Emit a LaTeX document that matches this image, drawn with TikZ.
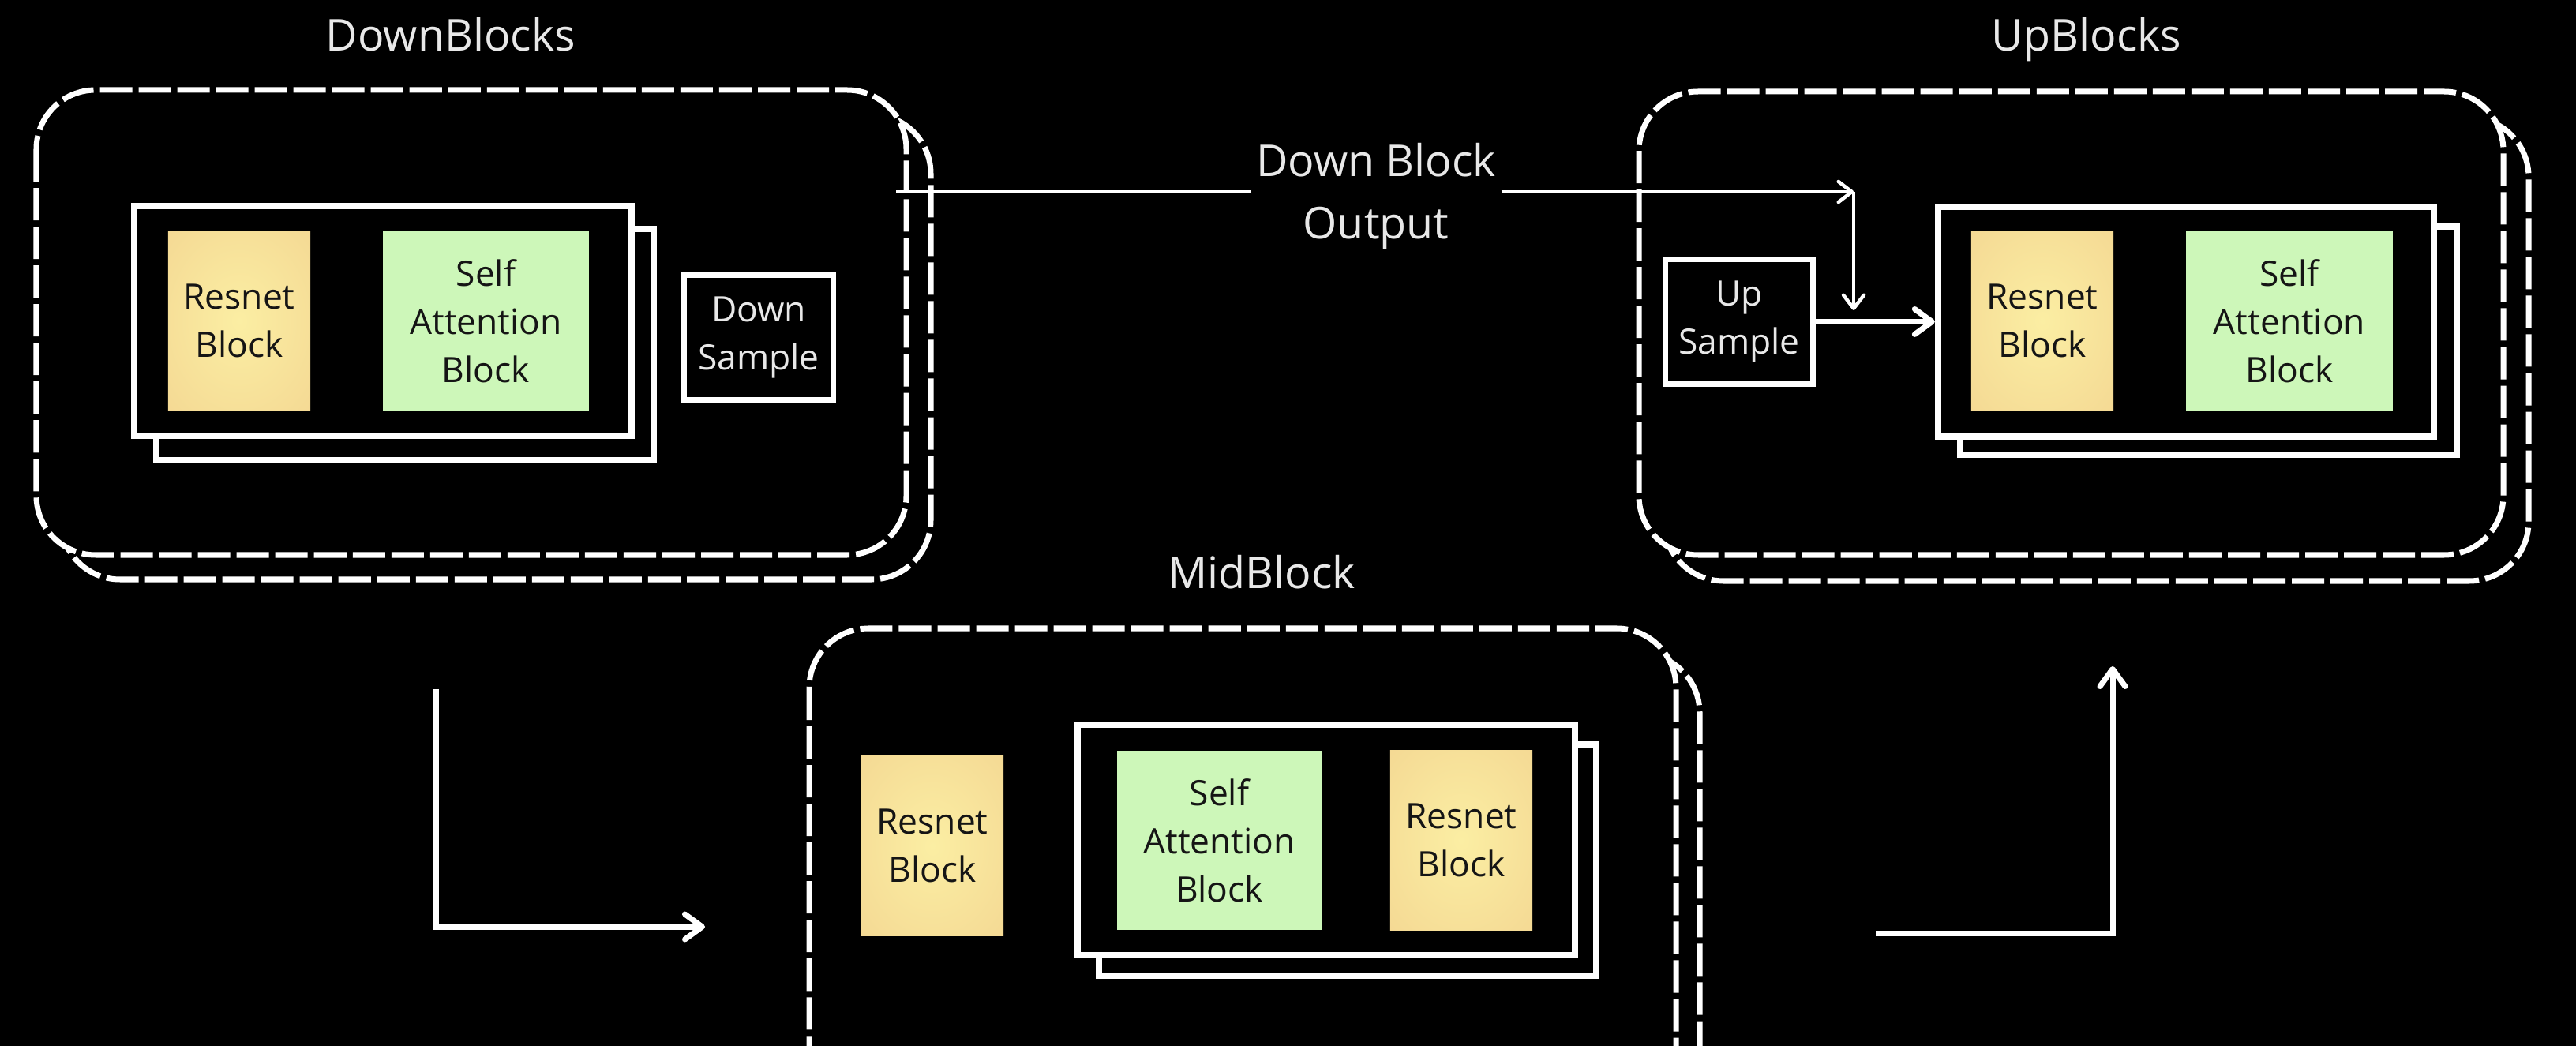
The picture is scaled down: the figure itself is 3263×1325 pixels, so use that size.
\documentclass[tikz,border=0pt]{standalone}
\usepackage{fontspec}
\setmainfont{Open Sans}
\usetikzlibrary{arrows.meta}
\definecolor{resin}{HTML}{FBEEA3}
\definecolor{resmid}{HTML}{F4D893}
\definecolor{resout}{HTML}{EBC280}
\definecolor{sagreen}{RGB}{205,247,185}
\definecolor{ink}{HTML}{151515}
\definecolor{lighttext}{HTML}{E8E8E8}
\pgfdeclareradialshading{resshade}{\pgfpoint{0bp}{0bp}}{color(0bp)=(resin); color(38bp)=(resmid); color(71bp)=(resout)}
\newcommand\blockfont{\fontsize{12.6pt}{17.35pt}\selectfont}
\newcommand\titlefont{\fontsize{15.8pt}{22.5pt}\selectfont}
\begin{document}
\begin{tikzpicture}[x=0.01cm,y=-0.01cm,
  dbox/.style={draw=white, line width=0.07cm, dash pattern=on 0.41cm off 0.08cm, rounded corners=0.75cm},
  frame/.style={draw=white, line width=0.08cm, fill=black, inner sep=0pt},
  resblk/.style={shading=resshade, text=ink, align=center, font=\blockfont, inner sep=0pt, minimum width=1.80cm, minimum height=2.26cm},
  sablk/.style={fill=sagreen, text=ink, align=center, font=\blockfont, inner sep=0pt, minimum width=2.61cm, minimum height=2.26cm},
  smallbox/.style={draw=white, line width=0.07cm, fill=black, text=lighttext, align=center, font=\blockfont, inner sep=0pt, minimum width=1.87cm, minimum height=1.57cm},
  title/.style={text=lighttext, font=\titlefont, anchor=base},
  arr/.style={draw=white, line width=0.07cm, line cap=round, -{Straight Barb[length=0.22cm,width=0.32cm,round]}},
  plain/.style={draw=white, line width=0.07cm},
  thinarr/.style={draw=white, line width=0.045cm, -{Straight Barb[length=0.17cm,width=0.26cm,round]}},
  thinline/.style={draw=white, line width=0.045cm}]
\useasboundingbox (0,0) rectangle (3263,1325);
\fill[black] (0,0) rectangle (3263,1325);
\clip (0,0) rectangle (3263,1325);

% ---------- dashed containers (back, then front) ----------
\draw[dbox] (77,145) rectangle (1179,734);
\draw[dbox, fill=black] (46,114) rectangle (1148,703);
\draw[dbox] (2108,149) rectangle (3203,736);
\draw[dbox, fill=black] (2076,116) rectangle (3171,703);
\draw[dbox] (1055,828) rectangle (2153,1460);
\draw[dbox, fill=black] (1025,796) rectangle (2123,1430);

% ---------- titles ----------
\node[title] (tdown) at (571,65) {DownBlocks};
\node[title] (tup) at (2643,65) {UpBlocks};
\node[title] (tmid) at (1598,745) {MidBlock};

% ---------- DownBlocks ----------
\node[frame, minimum width=6.30cm, minimum height=2.92cm] (dback) at (513,436.5) {};
\node[frame, minimum width=6.30cm, minimum height=2.91cm] (dfront) at (485,406.5) {};
\node[resblk] (r1) at (303,406.5) {Resnet\\Block};
\node[sablk] (sa1) at (615.5,406.5) {Self\\Attention\\Block};
\node[smallbox, minimum width=1.88cm] (ds) at (961,427.5) {Down\\Sample};

% ---------- UpBlocks ----------
\node[frame, minimum width=6.29cm, minimum height=2.89cm] (uback) at (2797.5,431.5) {};
\node[frame, minimum width=6.28cm, minimum height=2.91cm] (ufront) at (2769,407.5) {};
\node[resblk] (r2) at (2587,406.5) {Resnet\\Block};
\node[sablk, minimum width=2.62cm] (sa2) at (2900,406.5) {Self\\Attention\\Block};
\node[smallbox, minimum width=1.86cm] (us) at (2203,407.5) {Up\\Sample};

% ---------- MidBlock ----------
\node[resblk, minimum height=2.27cm] (r3) at (1181,1071.5) {Resnet\\Block};
\node[frame, minimum width=6.30cm, minimum height=2.93cm] (mback) at (1707,1089.5) {};
\node[frame, minimum width=6.30cm, minimum height=2.92cm] (mfront) at (1680,1064) {};
\node[sablk, minimum width=2.59cm, minimum height=2.27cm] (sa3) at (1544.5,1064.5) {Self\\Attention\\Block};
\node[resblk, minimum height=2.27cm] (r4) at (1851,1064.5) {Resnet\\Block};

% ---------- Down Block Output skip connection ----------
\coordinate (dbstart) at (1135,243);
\coordinate (dbcorner) at (2348,243);
\coordinate (dbend) at (2348,393);
\node[fill=black, text=lighttext, font=\titlefont, align=center, inner sep=0.06cm] (dbo) at (1743,249) {Down Block\\Output};
\draw[thinline] (dbstart) -- (dbstart -| dbo.west);
\draw[thinarr] (dbstart -| dbo.east) -- (dbcorner);
\draw[thinarr] (dbcorner) -- (dbend);

% ---------- Up Sample to Resnet ----------
\draw[arr] (us.east) -- (ufront.west);

% ---------- flow arrows ----------
\coordinate (l1a) at (552,873);
\coordinate (l1b) at (552,1174);
\coordinate (l1c) at (893,1174);
\draw[arr, line cap=butt] (l1a) -- (l1b) -- (l1c);
\coordinate (l2a) at (2376,1182);
\coordinate (l2b) at (2676,1182);
\coordinate (l2c) at (2676,844);
\draw[arr, line cap=butt] (l2a) -- (l2b) -- (l2c);
\end{tikzpicture}
\end{document}
